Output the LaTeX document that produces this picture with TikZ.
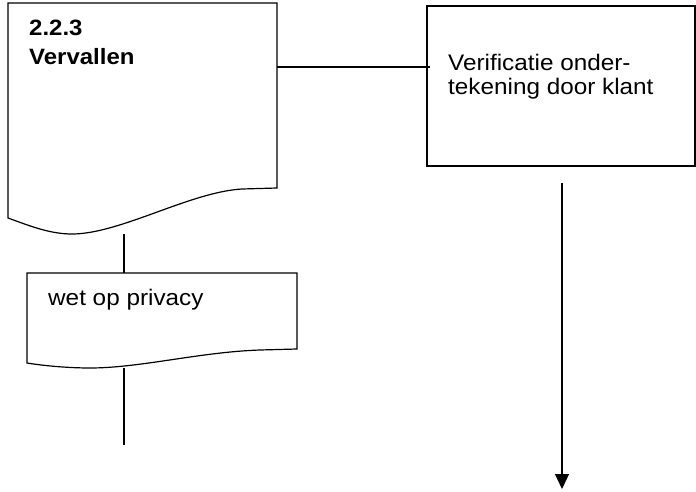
\documentclass[tikz,border=0pt]{standalone}
\usepackage{fontspec}
\setmainfont{Liberation Sans}
\usetikzlibrary{arrows.meta}
\newcommand{\stretchtxt}[1]{\scalebox{1.08}[1]{\begin{tabular}[t]{@{}l@{}}#1\end{tabular}}}
\begin{document}
\begin{tikzpicture}[x=1pt,y=-1pt,
  shp/.style={draw=black,line width=1.2pt,line join=miter},
  conn/.style={draw=black,line width=1.2pt},
  lbl/.style={anchor=base west,inner sep=0pt,font=\fontsize{22.5}{22.6}\selectfont},
  blbl/.style={lbl,font=\fontsize{22.2}{22.6}\selectfont\bfseries}]
\useasboundingbox (0,0) rectangle (696,492);
% document shape 1
\draw[shp] (8,3) -- (277,3) -- (277,188) -- (242,189)
  .. controls (190,192) and (120,234) .. (72,234)
  .. controls (50,234) and (30,226) .. (8,218) -- cycle;
\coordinate (s1r) at (277,67);
\coordinate (s1b) at (124,234);
\node[blbl] (t1a) at (29,36) {\stretchtxt{2.2.3}};
\node[blbl] (t1b) at (29,65) {\stretchtxt{Vervallen}};
% document shape 2
\draw[shp] (27,273) -- (297,273) -- (297,349) -- (260,350)
  .. controls (200,352) and (140,368) .. (90,368)
  .. controls (70,368) and (45,366) .. (27,363) -- cycle;
\coordinate (s2t) at (124,273);
\coordinate (s2b) at (124,368);
\coordinate (s2end) at (124,445);
\node[lbl] (t2) at (48,305) {\stretchtxt{wet op privacy}};
% box 3
\draw[shp] (427,6) rectangle (695,166);
\coordinate (b3l) at (430,67);
\node[lbl] (t3) at (448,71) {\stretchtxt{Verificatie onder-\\tekening door klant}};
% connectors
\draw[conn] (s1r) -- (b3l);
\draw[conn] (s1b) -- (s2t);
\draw[conn] (s2b) -- (s2end);
\coordinate (as) at (562,183);
\coordinate (ae) at (562,489);
\draw[conn,-{Triangle[length=15pt,width=14pt]}] (as) -- (ae);
\end{tikzpicture}
\end{document}
